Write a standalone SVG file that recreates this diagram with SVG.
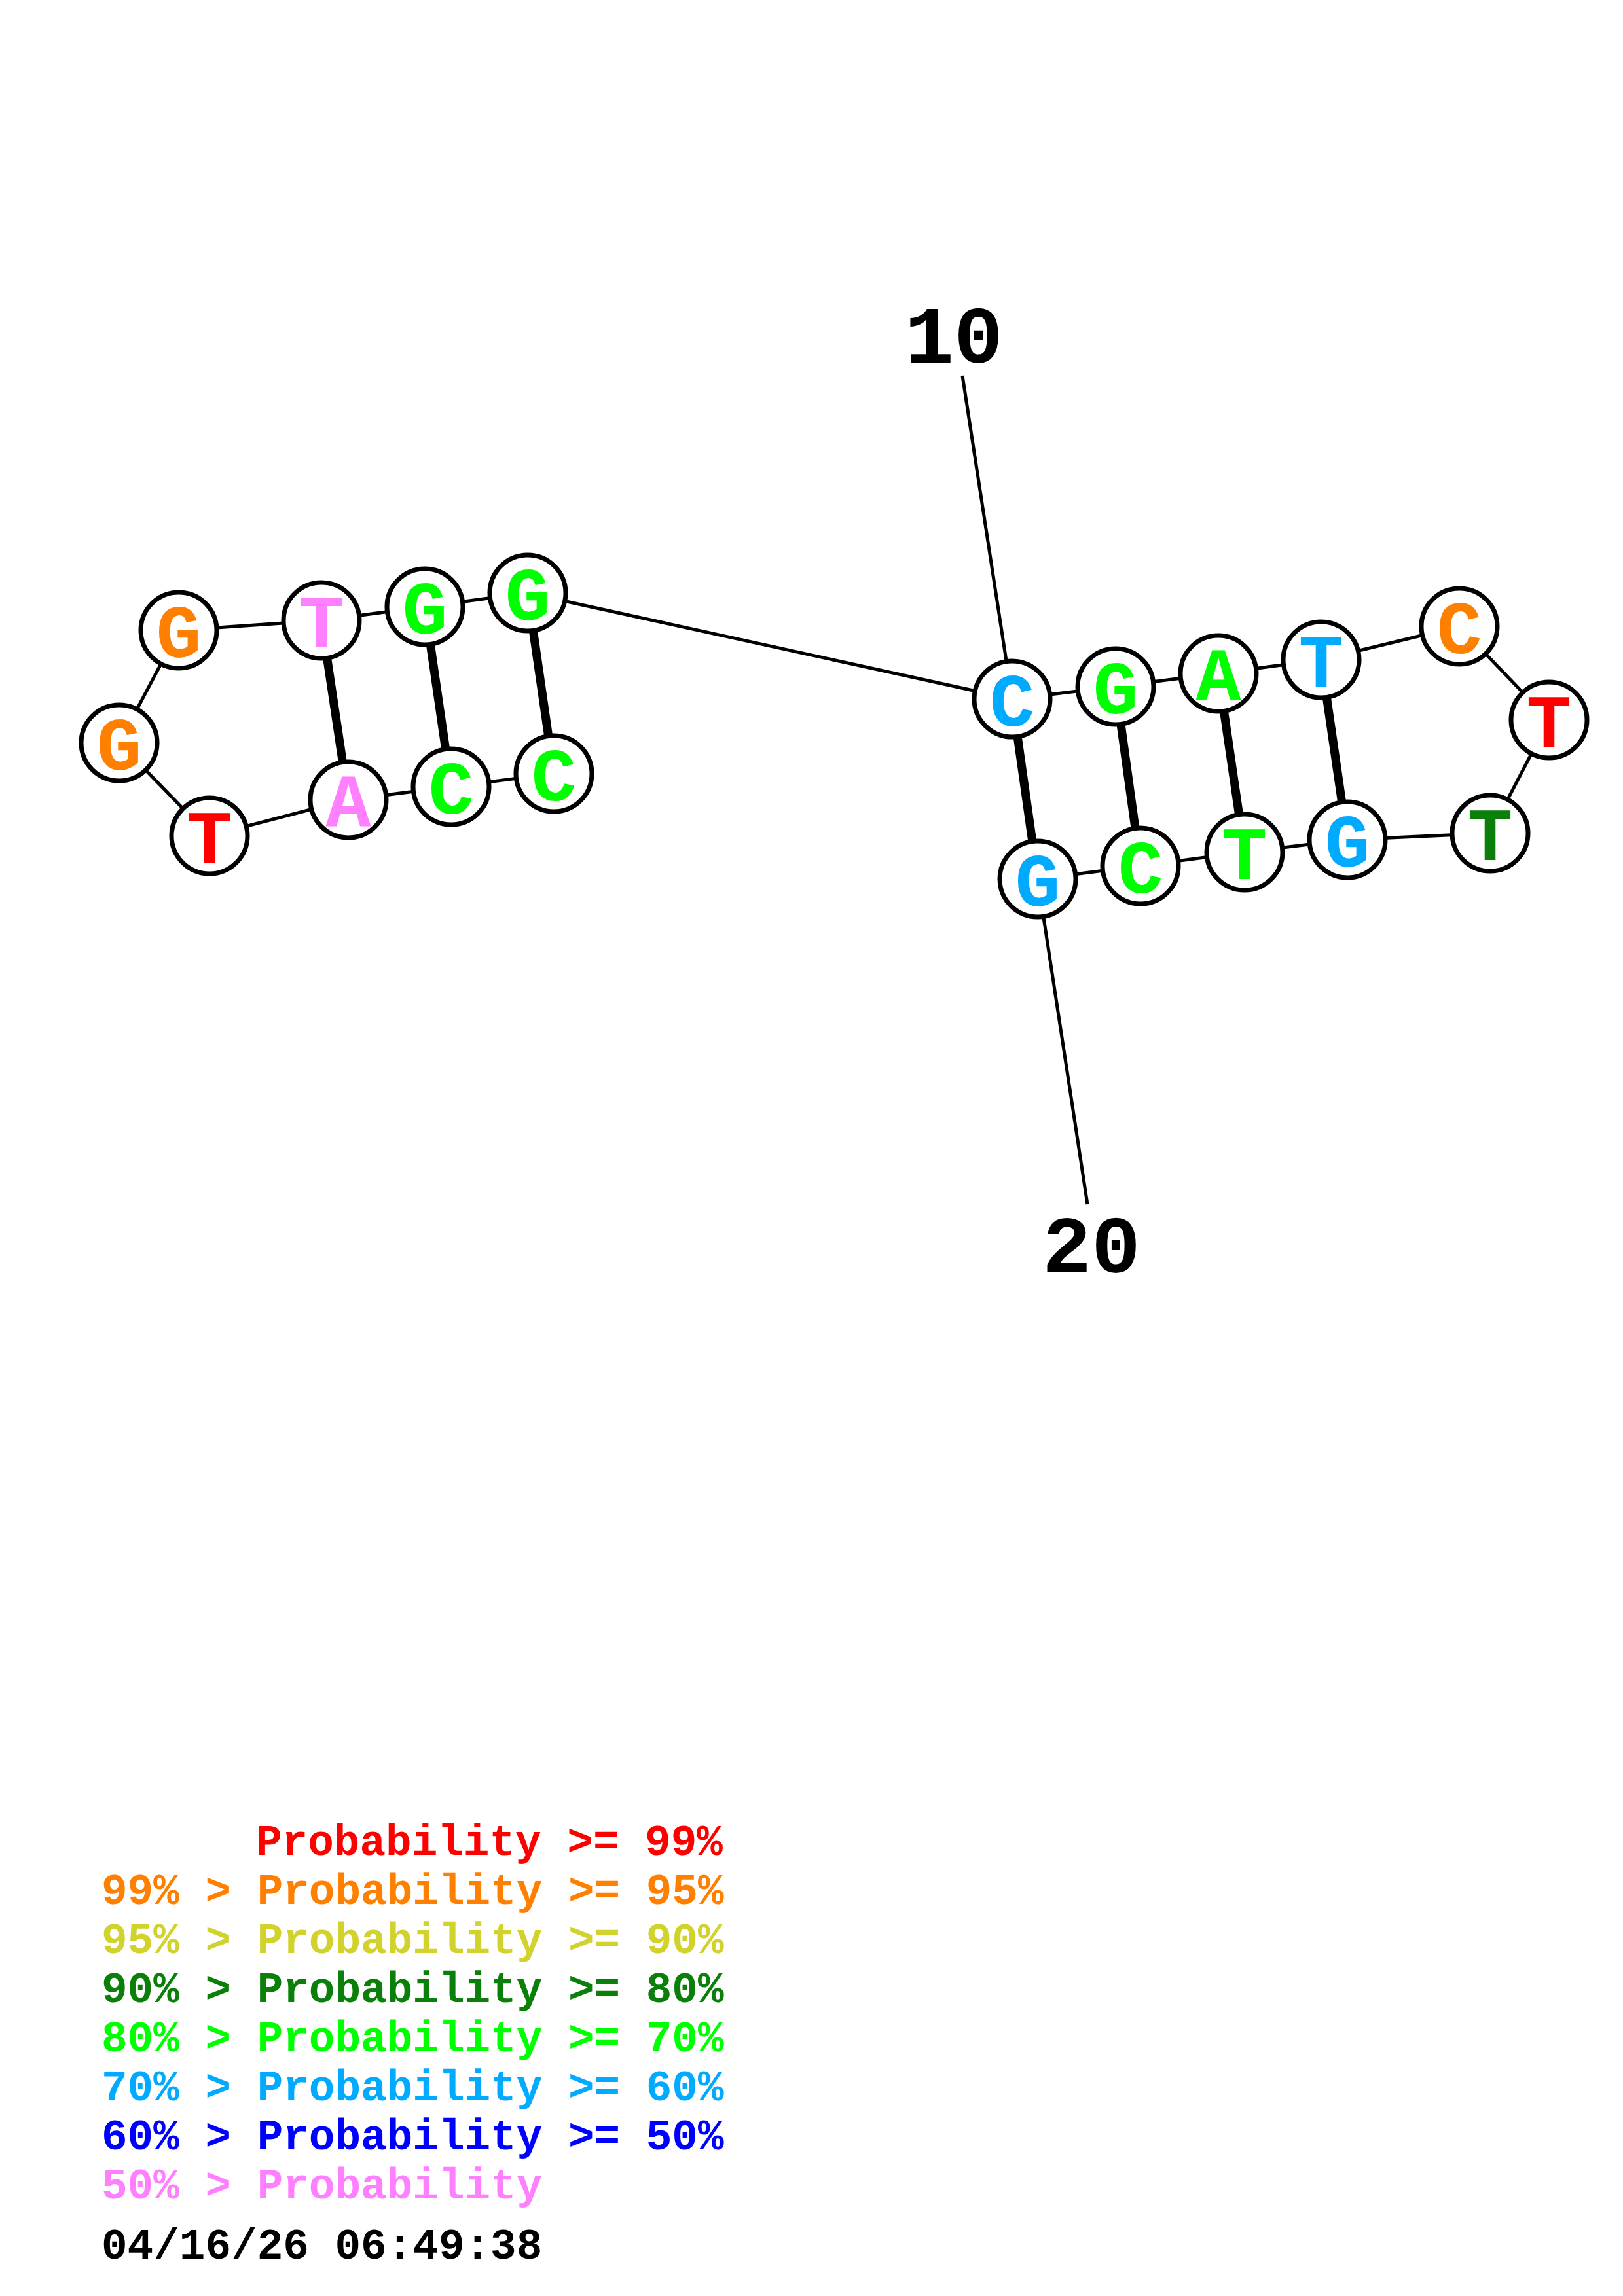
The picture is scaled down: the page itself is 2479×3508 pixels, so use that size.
<svg xmlns="http://www.w3.org/2000/svg" width="2479" height="3508" viewBox="0 0 2479 3508">
<style>
.bb{stroke:#000;stroke-width:5;fill:none}
.pr{stroke:#000;stroke-width:13;fill:none}
.nd circle{fill:#fff;stroke:#000;stroke-width:7}
.nd text{font-family:"Liberation Mono","Courier New",monospace;font-weight:bold;font-size:115px;text-anchor:middle}
.num{font-family:"Liberation Mono","Courier New",monospace;font-weight:bold;font-size:125px;text-anchor:middle;fill:#000}
.lg{font-family:"Liberation Mono","Courier New",monospace;font-weight:bold;font-size:66px;white-space:pre}
.red{fill:#FF0000}.org{fill:#FF8000}.yel{fill:#D2D22D}.dgr{fill:#0A800A}.grn{fill:#00FF00}.sky{fill:#00AAFF}.blu{fill:#0000FF}.pnk{fill:#FF80FF}
</style>
<rect width="2479" height="3508" fill="#fff"/>
<g id="connectors">
<polyline class="bb" points="846,1182 689,1202 532,1222 320,1277 182,1135 273,963 491,948 649,927 806,906 1546,1068 1704,1049 1861,1029 2018,1008 2229,957 2366,1100 2276,1273 2058,1283 1901,1302 1742,1323 1585,1343"/>
<line class="pr" x1="846" y1="1182" x2="806" y2="906"/>
<line class="pr" x1="689" y1="1202" x2="649" y2="927"/>
<line class="pr" x1="532" y1="1222" x2="491" y2="948"/>
<line class="pr" x1="1546" y1="1068" x2="1585" y2="1343"/>
<line class="pr" x1="1704" y1="1049" x2="1742" y2="1323"/>
<line class="pr" x1="1861" y1="1029" x2="1901" y2="1302"/>
<line class="pr" x1="2018" y1="1008" x2="2058" y2="1283"/>
<line class="bb" x1="1470" y1="574" x2="1546" y2="1068"/>
<line class="bb" x1="1585" y1="1343" x2="1661" y2="1840"/>
</g>
<g id="n1" class="nd"><circle cx="846" cy="1182" r="58"/><text x="846" y="1223" class="grn">C</text></g>
<g id="n2" class="nd"><circle cx="689" cy="1202" r="58"/><text x="689" y="1243" class="grn">C</text></g>
<g id="n3" class="nd"><circle cx="532" cy="1222" r="58"/><text x="532" y="1263" class="pnk">A</text></g>
<g id="n4" class="nd"><circle cx="320" cy="1277" r="58"/><text x="320" y="1318" class="red">T</text></g>
<g id="n5" class="nd"><circle cx="182" cy="1135" r="58"/><text x="182" y="1176" class="org">G</text></g>
<g id="n6" class="nd"><circle cx="273" cy="963" r="58"/><text x="273" y="1004" class="org">G</text></g>
<g id="n7" class="nd"><circle cx="491" cy="948" r="58"/><text x="491" y="989" class="pnk">T</text></g>
<g id="n8" class="nd"><circle cx="649" cy="927" r="58"/><text x="649" y="968" class="grn">G</text></g>
<g id="n9" class="nd"><circle cx="806" cy="906" r="58"/><text x="806" y="947" class="grn">G</text></g>
<g id="n10" class="nd"><circle cx="1546" cy="1068" r="58"/><text x="1546" y="1109" class="sky">C</text></g>
<g id="n11" class="nd"><circle cx="1704" cy="1049" r="58"/><text x="1704" y="1090" class="grn">G</text></g>
<g id="n12" class="nd"><circle cx="1861" cy="1029" r="58"/><text x="1861" y="1070" class="grn">A</text></g>
<g id="n13" class="nd"><circle cx="2018" cy="1008" r="58"/><text x="2018" y="1049" class="sky">T</text></g>
<g id="n14" class="nd"><circle cx="2229" cy="957" r="58"/><text x="2229" y="998" class="org">C</text></g>
<g id="n15" class="nd"><circle cx="2366" cy="1100" r="58"/><text x="2366" y="1141" class="red">T</text></g>
<g id="n16" class="nd"><circle cx="2276" cy="1273" r="58"/><text x="2276" y="1314" class="dgr">T</text></g>
<g id="n17" class="nd"><circle cx="2058" cy="1283" r="58"/><text x="2058" y="1324" class="sky">G</text></g>
<g id="n18" class="nd"><circle cx="1901" cy="1302" r="58"/><text x="1901" y="1343" class="grn">T</text></g>
<g id="n19" class="nd"><circle cx="1742" cy="1323" r="58"/><text x="1742" y="1364" class="grn">C</text></g>
<g id="n20" class="nd"><circle cx="1585" cy="1343" r="58"/><text x="1585" y="1384" class="sky">G</text></g>
<g id="labels">
<text class="num" x="1457" y="554">10</text>
<text class="num" x="1667" y="1944">20</text>
</g>
<g id="legend">
<text class="lg red" x="391" y="2834">Probability &gt;= 99%</text>
<text class="lg org" x="155" y="2909">99% &gt; Probability &gt;= 95%</text>
<text class="lg yel" x="155" y="2984">95% &gt; Probability &gt;= 90%</text>
<text class="lg dgr" x="155" y="3059">90% &gt; Probability &gt;= 80%</text>
<text class="lg grn" x="155" y="3134">80% &gt; Probability &gt;= 70%</text>
<text class="lg sky" x="155" y="3209">70% &gt; Probability &gt;= 60%</text>
<text class="lg blu" x="155" y="3284">60% &gt; Probability &gt;= 50%</text>
<text class="lg pnk" x="155" y="3359">50% &gt; Probability</text>
<text class="lg" fill="#000" x="155" y="3451">04/16/26 06:49:38</text>
</g>
</svg>
